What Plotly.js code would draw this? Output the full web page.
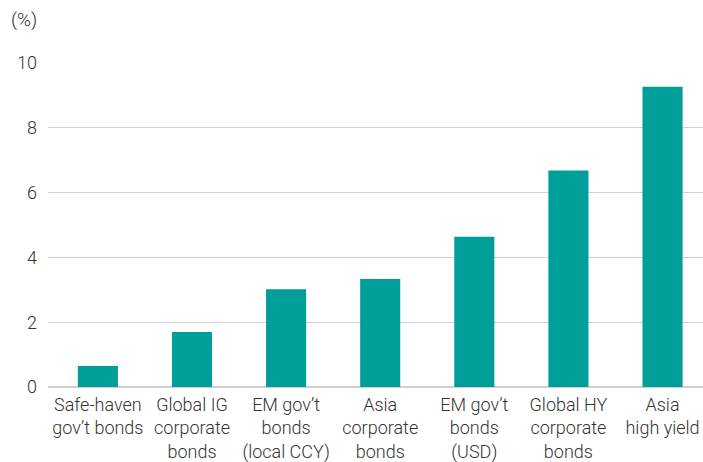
<!DOCTYPE html>
<html>
<head>
<meta charset="utf-8">
<script src="https://cdn.plot.ly/plotly-3.0.1.min.js"></script>
<style>html,body{margin:0;padding:0;background:#fff;}#chart{width:703px;height:462px;}</style>
</head>
<body>
<div id="chart"></div>
<script>
const categories = ["Safe-haven gov’t bonds","Global IG corporate bonds","EM gov’t bonds (local CCY)","Asia corporate bonds","EM gov’t bonds (USD)","Global HY corporate bonds","Asia high yield"];
const tickLabels = ["Safe-haven<br>gov’t bonds","Global IG<br>corporate<br>bonds","EM gov’t<br>bonds<br>(local CCY)","Asia<br>corporate<br>bonds","EM gov’t<br>bonds<br>(USD)","Global HY<br>corporate<br>bonds","Asia<br>high yield"];
const values = [0.65, 1.70, 3.02, 3.33, 4.64, 6.68, 9.27];
const yTicks = [0, 2, 4, 6, 8, 10];
const unitLabel = "(%)";

const trace = {
  type: "bar",
  x: categories,
  y: values,
  marker: {color: "#009E99"},
  hoverinfo: "skip"
};
const layout = {
  width: 703, height: 462,
  margin: {l: 48, r: 0, t: 63, b: 75, pad: 0},
  paper_bgcolor: "#fff", plot_bgcolor: "#fff",
  font: {family: "Roboto, 'Liberation Sans', sans-serif", color: "#333", size: 17, weight: 300},
  bargap: 0.574,
  showlegend: false,
  xaxis: {
    type: "category",
    range: [-0.53, 6.43],
    tickmode: "array",
    tickvals: categories,
    ticktext: tickLabels,
    showgrid: false,
    showline: false,
    ticks: "",
    ticklabelstandoff: 5,
    tickfont: {size: 18, color: "#333", weight: 300},
    fixedrange: true
  },
  yaxis: {
    range: [0, 10],
    tickmode: "array",
    tickvals: yTicks,
    ticktext: yTicks.map(String),
    showgrid: true,
    gridcolor: "#d0d0d0",
    gridwidth: 1,
    zeroline: true,
    zerolinecolor: "#d0d0d0",
    zerolinewidth: 2,
    showline: false,
    ticks: "",
    ticklabelstandoff: 10,
    tickfont: {size: 18, color: "#333", weight: 300},
    fixedrange: true
  },
  annotations: [{
    text: unitLabel, xref: "paper", yref: "paper", x: -0.06, y: 1.135,
    xanchor: "left", yanchor: "middle", showarrow: false,
    font: {size: 19, color: "#333", weight: 300}
  }]
};
Plotly.newPlot("chart", [trace], layout, {displayModeBar: false, staticPlot: true});
</script>
</body>
</html>
